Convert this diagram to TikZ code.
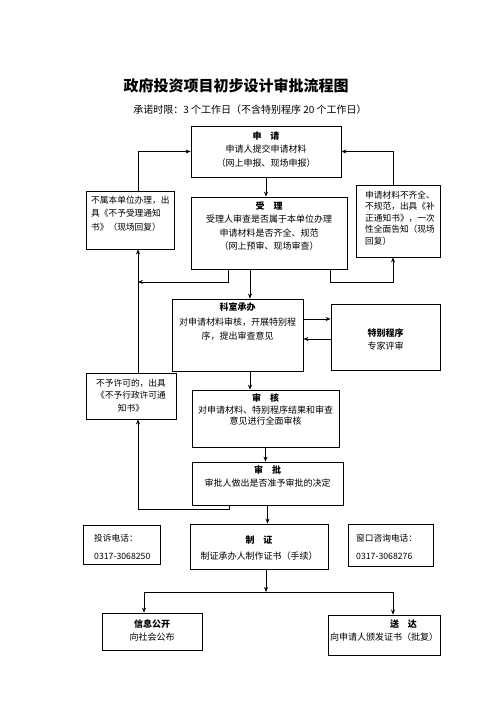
\documentclass[tikz,border=0pt]{standalone}
\usepackage{fontspec}
\setmainfont{Noto Sans CJK SC}
\usetikzlibrary{arrows.meta}
\begin{document}
\begin{tikzpicture}[x=1pt,y=-1pt,
  box/.style={draw, line width=0.8pt, inner sep=0pt},
  txt/.style={inner sep=0pt, anchor=north, align=center, font=\fontsize{9}{13}\selectfont},
  ltxt/.style={inner sep=0pt, anchor=north west, align=left, font=\fontsize{8.7}{12}\selectfont},
  arr/.style={line width=0.7pt, -{Stealth[length=5pt,width=4pt]}},
  ln/.style={line width=0.7pt}]
\useasboundingbox[fill=white] (0,0) rectangle (500,707);

% titles
\node[font=\fontsize{15}{18}\selectfont\bfseries, inner sep=0pt] (title) at (236,86) {政府投资项目初步设计审批流程图};
\node[font=\fontsize{10}{12}\selectfont, inner sep=0pt] (sub) at (250,110) {承诺时限：3 个工作日（不含特别程序 20 个工作日）};

% boxes
\node[box, minimum width=150pt, minimum height=51pt] (shenqing) at (266,151.5) {};
\node[box, minimum width=88pt, minimum height=58pt] (bushu) at (130,220) {};
\node[box, minimum width=156pt, minimum height=72pt] (shouli) at (269,233) {};
\node[box, minimum width=84pt, minimum height=72pt] (buqi) at (398,221) {};
\node[box, minimum width=131pt, minimum height=72pt] (keshi) at (237.5,335) {};
\node[box, minimum width=109pt, minimum height=66pt] (tebie) at (385.5,337) {};
\node[box, minimum width=90pt, minimum height=46pt] (buyu) at (131,396) {};
\node[box, minimum width=147pt, minimum height=57pt] (shenhe) at (265.5,418.5) {};
\node[box, minimum width=151pt, minimum height=43pt] (shenpi) at (267.5,483.5) {};
\node[box, minimum width=77pt, minimum height=39pt] (tousu) at (121.5,544.5) {};
\node[box, minimum width=138pt, minimum height=45pt] (zhizheng) at (259,546.5) {};
\node[box, minimum width=85pt, minimum height=42pt] (chuangkou) at (390.5,545) {};
\node[box, minimum width=100pt, minimum height=37pt] (xinxi) at (152,631.5) {};
\node[box, minimum width=112pt, minimum height=40pt] (songda) at (384,635) {};

% texts
\node[txt, font=\fontsize{9}{13.5}\selectfont] (shenqingT) at (266,131.5) {\textbf{申\hspace{1em}请}\\申请人提交申请材料\\（网上申报、现场申报）};
\node[ltxt, font=\fontsize{8.7}{13.5}\selectfont] (bushuT) at (91,195.5) {不属本单位办理，出\\具《不予受理通知\\书》（现场回复）};
\node[txt, font=\fontsize{9}{13.3}\selectfont] (shouliT) at (269,201.5) {\textbf{受\hspace{1em}理}\\受理人审查是否属于本单位办理\\申请材料是否齐全、规范\\（网上预审、现场审查）};
\node[ltxt, font=\fontsize{8.7}{11.6}\selectfont] (buqiT) at (365,190.5) {申请材料不齐全、\\不规范，出具《补\\正通知书》，一次\\性全面告知（现场\\回复）};
\node[txt, font=\fontsize{9}{14.5}\selectfont] (keshiT) at (237.5,302.5) {\textbf{科室承办}\\对申请材料审核，开展特别程\\序，提出审查意见};
\node[txt, font=\fontsize{9}{13}\selectfont] (tebieT) at (385.5,328.5) {\textbf{特别程序}\\专家评审};
\node[txt, font=\fontsize{8.7}{12.5}\selectfont] (buyuT) at (131,378.5) {不予许可的，出具\\《不予行政许可通\\知书》};
\node[txt, font=\fontsize{9}{11.7}\selectfont] (shenheT) at (265.5,393.5) {\textbf{审\hspace{1em}核}\\对申请材料、特别程序结果和审查\\意见进行全面审核};
\node[txt, font=\fontsize{9}{13}\selectfont] (shenpiT) at (267.5,465.5) {\textbf{审\hspace{1em}批}\\审批人做出是否准予审批的决定};
\node[ltxt, font=\fontsize{8.7}{18}\selectfont] (tousuT) at (94,533.5) {投诉电话：\\0317-3068250};
\node[txt, font=\fontsize{9}{16}\selectfont] (zhizhengT) at (259,535.5) {\textbf{制\hspace{1em}证}\\制证承办人制作证书（手续）};
\node[ltxt, font=\fontsize{8.7}{18}\selectfont] (chuangkouT) at (356,533.5) {窗口咨询电话：\\0317-3068276};
\node[txt, font=\fontsize{9}{13}\selectfont] (xinxiT) at (152,619.5) {\textbf{信息公开}\\向社会公布};
\node[txt, font=\fontsize{9}{13}\selectfont] (songdaT) at (384,619.5) {\hspace*{39pt}\textbf{送\hspace{1em}达}\\向申请人颁发证书（批复）};

% helper coordinates
\coordinate (vl) at (138,0);
\coordinate (x250) at (250,0);
\coordinate (x229) at (229,0);
\coordinate (r1) at (0,319);
\coordinate (r2) at (0,339);
\coordinate (jl) at (138,282);
\coordinate (jn) at (266,592);

% connectors
\draw[arr] (shenqing.south) -- (shenqing.south |- shouli.north);
\draw[arr] (vl |- bushu.north) |- (shenqing.west);
\draw[arr] ([xshift=-5pt]buqi.north) |- (shenqing.east);
\draw[arr] ([xshift=-41pt]shouli.south) |- (jl);
\draw[arr] (vl |- buyu.north) -- (vl |- bushu.south);
\draw[arr] ([xshift=61pt]shouli.south) -- ++(0,13) -| ([xshift=-5pt]buqi.south);
\draw[arr] (shouli.south -| x250) -- (keshi.north -| x250);
\draw[arr] (keshi.east |- r1) -- (tebie.west |- r1);
\draw[arr] (tebie.west |- r2) -- (keshi.east |- r2);
\draw[arr] (keshi.south -| x250) -- (shenhe.north -| x250);
\draw[arr] (shenhe.south) -- (shenhe.south |- shenpi.north);
\draw[arr] (shenpi.south -| x229) -- ++(0,4) -| (vl |- buyu.south);
\draw[arr] (shenpi.south) -- (shenpi.south |- zhizheng.north);
\draw[arr] (zhizheng.south -| jn) -- (jn);
\draw[arr] (jn) -| ([xshift=-8pt]xinxi.north);
\draw[arr] (jn) -| ([xshift=9pt]songda.north);
\end{tikzpicture}
\end{document}
